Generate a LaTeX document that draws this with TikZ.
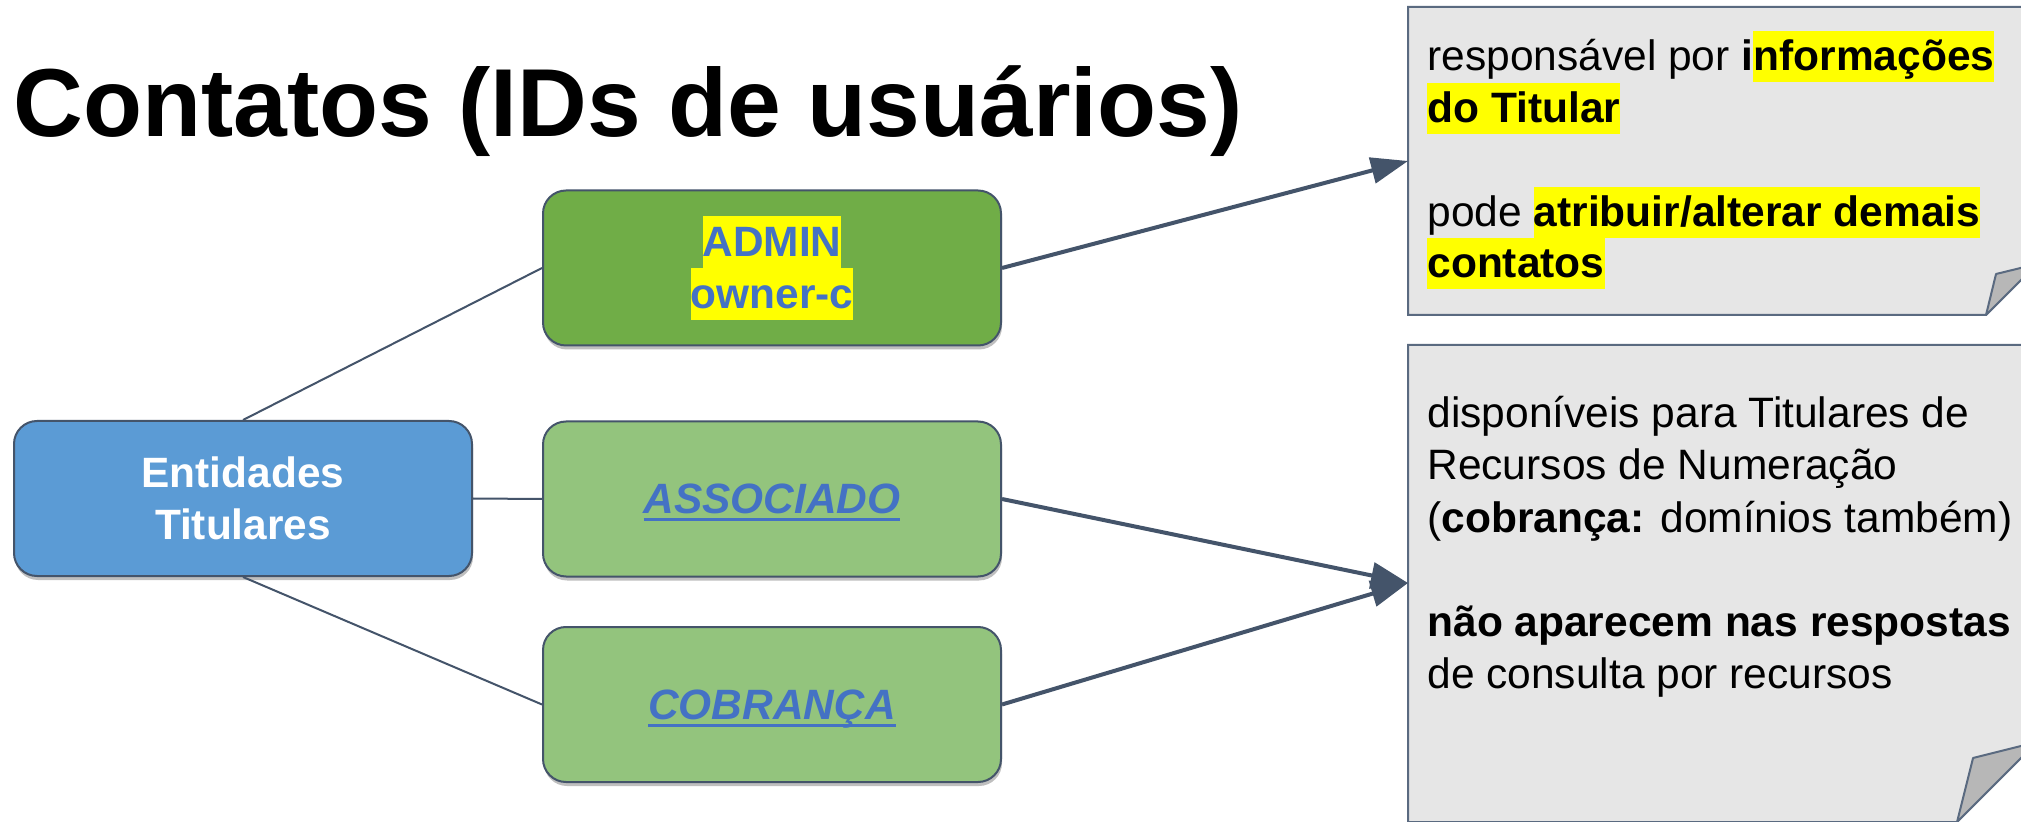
\documentclass[tikz,border=0pt]{standalone}
\usepackage{fontspec}
\setmainfont{Liberation Sans}
\usetikzlibrary{arrows.meta,shadows}
\definecolor{entblue}{HTML}{5B9BD5}
\definecolor{admgreen}{HTML}{70AD47}
\definecolor{ltgreen}{HTML}{93C47D}
\definecolor{slate}{HTML}{44546A}
\definecolor{txtblue}{HTML}{4472C4}
\definecolor{hlyellow}{HTML}{FFFF00}
\definecolor{notefill}{HTML}{E6E6E6}
\definecolor{flapfill}{HTML}{B7B7B7}
\definecolor{noteedge}{HTML}{5A6A80}
\newcommand{\hlt}[1]{{\setlength{\fboxsep}{0pt}\colorbox{hlyellow}{\rule[-5.75pt]{0pt}{25.75pt}#1}}}
\newcommand{\ulbox}[1]{{\setbox0\hbox{#1}\rlap{\smash{\rule[-4pt]{\wd0}{1.5pt}}}\box0}}
\newcommand{\bt}[1]{{\bfseries #1}}
\begin{document}
\begin{tikzpicture}[x=0.5pt,y=-0.5pt,
  box/.style={draw=slate, line width=1pt, rounded corners=11.5pt,
    minimum width=229pt, minimum height=77.5pt, inner sep=0pt, align=center,
    font=\fontsize{21.2}{26}\selectfont\bfseries,
    drop shadow={shadow xshift=0.5pt, shadow yshift=-2pt, opacity=0.25, fill=black}},
  ulbox/.style={box, fill=ltgreen, text=txtblue,
    font=\fontsize{21.2}{26}\selectfont\bfseries\itshape, text height=14.5pt, text depth=0pt},
  conn/.style={draw=slate, line width=1pt},
  arr/.style={draw=slate, line width=2pt, -{Triangle[length=18.5pt,width=13pt]}},
  note/.style={draw=noteedge, line width=1pt, fill=notefill},
  flap/.style={draw=noteedge, line width=1pt, fill=flapfill, line join=round},
  ntext/.style={anchor=base west, inner sep=0pt, font=\fontsize{21.25}{26}\selectfont},
]
\useasboundingbox (0,0) rectangle (2021,822);
\fill[white] (0,0) rectangle (2021,822);

% title
\node[anchor=base west, inner sep=0pt, font=\fontsize{48.3}{56}\selectfont\bfseries] (title) at (13,137) {Contatos (IDs de usuários)};

% notes
\begin{scope}
  \clip (0,0) rectangle (2021,822);
  \path[note] (1408,7) -- (2037,7) -- (2037,264) -- (1986,315) -- (1408,315) -- cycle;
  \path[flap] (1986,315) -- (1996,274) -- (2037,264) -- cycle;
  \path[note] (1408,345) -- (2037,345) -- (2037,742) -- (1957,822) -- (1408,822) -- cycle;
  \path[flap] (1957,822) -- (1973,758) -- (2037,742) -- cycle;
\end{scope}
\coordinate (n1) at (1408,161);
\coordinate (n2) at (1408,583);

% boxes
\node[box, fill=entblue, text=white] (ent) at (243,498.5) {Entidades\\Titulares};
\node[box, fill=admgreen, text=txtblue] (adm) at (772,268) {\hlt{ADMIN}\\\hlt{owner-c}};
\node[ulbox] (assoc) at (772,499) {\ulbox{ASSOCIADO}};
\node[ulbox] (cobr) at (772,704.5) {\ulbox{COBRANÇA}};

% connectors
\draw[conn] (ent.north) -- (adm.west);
\draw[conn] (ent.east) -- (assoc.west);
\draw[conn] (ent.south) -- (cobr.west);
\draw[arr] (adm.east) -- (n1);
\draw[arr] (assoc.east) -- (n2);
\draw[arr] (cobr.east) -- (n2);

% note texts
\node[ntext] (t1a) at (1427,71) {responsável por \bt{i\hlt{nformações}}};
\node[ntext] (t1b) at (1427,123) {\hlt{\bt{do Titular}}};
\node[ntext] (t1c) at (1427,227) {pode \hlt{\bt{atribuir/alterar demais}}};
\node[ntext] (t1d) at (1427,278) {\hlt{\bt{contatos}}};
\node[ntext] (t2a) at (1427,428) {disponíveis para Titulares de};
\node[ntext] (t2b) at (1427,480) {Recursos de Numeração};
\node[ntext] (t2c) at (1427,532) {(\bt{cobrança:} domínios também)};
\node[ntext] (t2d) at (1427,636) {\bt{não aparecem nas respostas}};
\node[ntext] (t2e) at (1427,688) {de consulta por recursos};
\end{tikzpicture}
\end{document}
